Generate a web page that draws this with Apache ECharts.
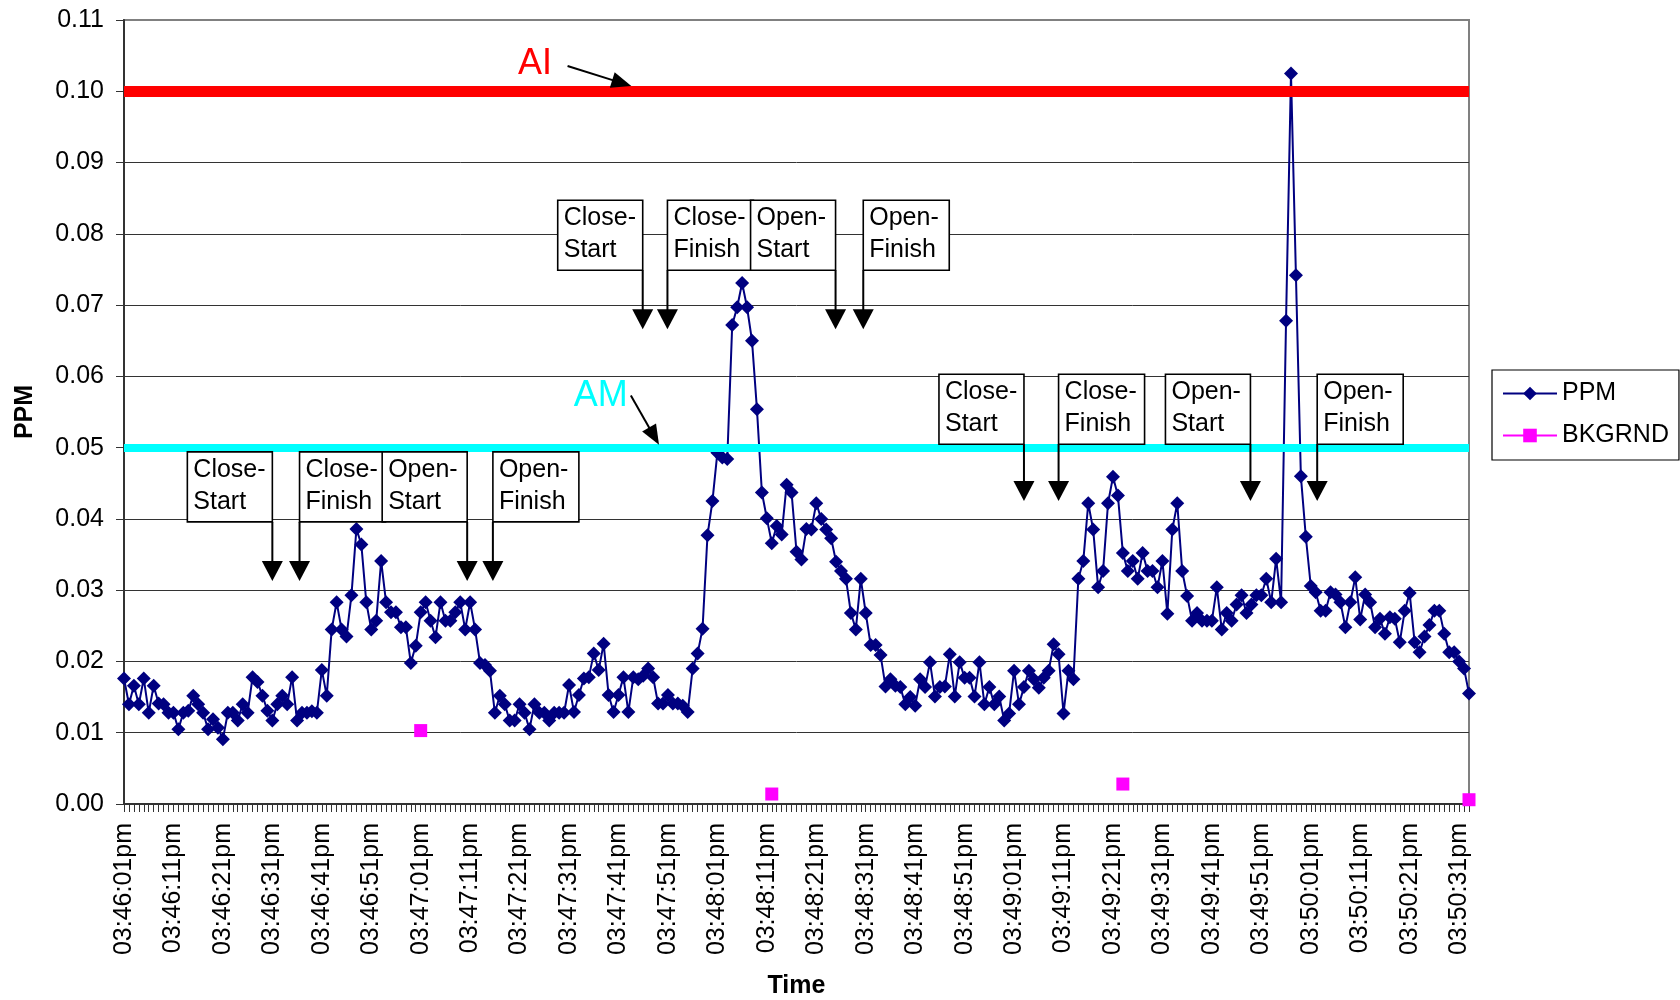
<!DOCTYPE html>
<html>
<head>
<meta charset="utf-8">
<script src="https://cdn.jsdelivr.net/npm/echarts@6/dist/echarts.min.js"></script>
<style>
html,body{margin:0;padding:0;background:#fff;}
#chart{width:1680px;height:1000px;}
</style>
</head>
<body>
<div id="chart"></div>
<script>
// ---------- DATA ----------
const START_HOUR = 15, START_MIN = 46, START_SEC = 1;   // 03:46:01pm
const N_POINTS = 273;                                   // one reading per second
const LABEL_EVERY = 10;

const PPM = [
  0.0176,0.0140,0.0166,0.0140,0.0176,0.0128,0.0166,0.0141,0.0140,0.0128,
  0.0128,0.0105,0.0128,0.0131,0.0152,0.0140,0.0128,0.0105,0.0119,0.0107,
  0.0091,0.0128,0.0128,0.0117,0.0140,0.0128,0.0178,0.0171,0.0152,0.0131,
  0.0117,0.0140,0.0152,0.0140,0.0178,0.0117,0.0128,0.0128,0.0130,0.0128,
  0.0188,0.0152,0.0245,0.0283,0.0245,0.0235,0.0293,0.0386,0.0364,0.0283,
  0.0245,0.0257,0.0341,0.0283,0.0269,0.0269,0.0248,0.0248,0.0198,0.0222,
  0.0269,0.0283,0.0257,0.0234,0.0283,0.0257,0.0257,0.0269,0.0283,0.0245,
  0.0283,0.0245,0.0198,0.0195,0.0187,0.0128,0.0152,0.0140,0.0117,0.0117,
  0.0140,0.0128,0.0105,0.0140,0.0128,0.0128,0.0117,0.0128,0.0128,0.0128,
  0.0167,0.0129,0.0153,0.0176,0.0178,0.0211,0.0188,0.0225,0.0153,0.0129,
  0.0153,0.0178,0.0129,0.0178,0.0175,0.0180,0.0190,0.0178,0.0141,0.0141,
  0.0153,0.0141,0.0141,0.0138,0.0129,0.0190,0.0211,0.0246,0.0377,0.0425,
  0.0493,0.0486,0.0484,0.0672,0.0697,0.0731,0.0697,0.0650,0.0554,0.0437,
  0.0401,0.0366,0.0390,0.0378,0.0448,0.0437,0.0354,0.0343,0.0386,0.0385,
  0.0422,0.0400,0.0385,0.0373,0.0340,0.0327,0.0316,0.0268,0.0245,0.0316,
  0.0268,0.0223,0.0223,0.0209,0.0165,0.0175,0.0166,0.0164,0.0140,0.0150,
  0.0138,0.0175,0.0164,0.0199,0.0151,0.0164,0.0165,0.0210,0.0151,0.0199,
  0.0177,0.0177,0.0151,0.0199,0.0140,0.0164,0.0140,0.0151,0.0117,0.0127,
  0.0187,0.0140,0.0164,0.0187,0.0175,0.0163,0.0177,0.0187,0.0224,0.0210,
  0.0127,0.0187,0.0175,0.0316,0.0341,0.0422,0.0385,0.0304,0.0327,0.0422,
  0.0459,0.0433,0.0352,0.0327,0.0341,0.0316,0.0352,0.0327,0.0327,0.0304,
  0.0341,0.0267,0.0385,0.0422,0.0327,0.0292,0.0257,0.0268,0.0257,0.0257,
  0.0257,0.0304,0.0245,0.0268,0.0257,0.0280,0.0293,0.0268,0.0280,0.0293,
  0.0293,0.0316,0.0283,0.0344,0.0283,0.0678,0.1025,0.0742,0.0460,0.0375,
  0.0306,0.0297,0.0271,0.0271,0.0297,0.0294,0.0283,0.0248,0.0283,0.0318,
  0.0259,0.0294,0.0283,0.0248,0.0260,0.0239,0.0262,0.0260,0.0227,0.0271,
  0.0296,0.0227,0.0213,0.0235,0.0251,0.0271,0.0271,0.0239,0.0213,0.0213,
  0.0200,0.0190,0.0155
];

const BKGRND_INDEX = [60, 131, 202, 272];
const BKGRND_VALUE = [0.0103, 0.0014, 0.0028, 0.0006];

const AI_LEVEL = 0.10;
const AM_LEVEL = 0.05;

const Y_MIN = 0, Y_MAX = 0.11, Y_STEP = 0.01;

// annotation events (category index of the event, box top value, arrow tip value)
const EVENT_LABELS = ['Close-\nStart','Close-\nFinish','Open-\nStart','Open-\nFinish',
                      'Close-\nStart','Close-\nFinish','Open-\nStart','Open-\nFinish',
                      'Close-\nStart','Close-\nFinish','Open-\nStart','Open-\nFinish'];
const EVENT_INDEX  = [30.0, 35.5, 69.4, 74.6, 104.9, 109.9, 143.9, 149.5, 182.0, 189.0, 227.8, 241.3];
const EVENT_BOXTOP = [0.0494,0.0494,0.0494,0.0494, 0.0847,0.0847,0.0847,0.0847, 0.0603,0.0603,0.0603,0.0603];
const EVENT_TIP    = [0.0313,0.0313,0.0313,0.0313, 0.0666,0.0666,0.0666,0.0666, 0.0425,0.0425,0.0425,0.0425];

// ---------- derived ----------
function fmtTime(sec) {
  const h = Math.floor(sec / 3600), m = Math.floor(sec / 60) % 60, s = sec % 60;
  const h12 = h > 12 ? h - 12 : h;
  const pad = n => (n < 10 ? '0' : '') + n;
  return pad(h12) + ':' + pad(m) + ':' + pad(s) + (h >= 12 ? 'pm' : 'am');
}
const startSec = START_HOUR * 3600 + START_MIN * 60 + START_SEC;
const CATEGORIES = [];
for (let i = 0; i < N_POINTS; i++) CATEGORIES.push(fmtTime(startSec + i));

const bkgrndData = new Array(N_POINTS).fill(null);
BKGRND_INDEX.forEach((idx, k) => { bkgrndData[idx] = BKGRND_VALUE[k]; });

const FONT = '"Liberation Sans", Arial, sans-serif';

const chart = echarts.init(document.getElementById('chart'), null, {renderer: 'canvas'});

chart.setOption({
  animation: false,
  backgroundColor: '#ffffff',
  textStyle: {fontFamily: FONT, color: '#000'},
  grid: {
    left: 124, right: 211, top: 20, bottom: 196,
    show: true, borderColor: '#808080', borderWidth: 2, backgroundColor: 'transparent',
    containLabel: false, outerBoundsMode: 'none'
  },
  legend: {
    data: ['PPM', 'BKGRND'],
    orient: 'vertical',
    left: 1492, top: 370,
    padding: [11, 10, 12, 10],
    itemGap: 17,
    itemWidth: 54, itemHeight: 17,
    borderColor: '#000', borderWidth: 1.2,
    backgroundColor: '#fff',
    textStyle: {fontFamily: FONT, fontSize: 25, color: '#000'}
  },
  xAxis: {
    type: 'category',
    data: CATEGORIES,
    boundaryGap: false,
    name: 'Time',
    nameLocation: 'middle',
    nameGap: 170,
    nameTextStyle: {fontFamily: FONT, fontSize: 25, fontWeight: 'bold', color: '#000'},
    axisLine: {show: true, onZero: false, lineStyle: {color: '#333', width: 2}},
    axisTick: {show: true, interval: 0, length: 8, inside: false, lineStyle: {color: '#333', width: 1}},
    axisLabel: {
      interval: LABEL_EVERY - 1, rotate: 90, margin: 19,
      fontFamily: FONT, fontSize: 25, color: '#000'
    },
    splitLine: {show: false}
  },
  yAxis: {
    type: 'value',
    min: Y_MIN, max: Y_MAX, interval: Y_STEP,
    name: 'PPM',
    nameLocation: 'middle',
    nameRotate: 90,
    nameGap: 86,
    nameTextStyle: {fontFamily: FONT, fontSize: 25, fontWeight: 'bold', color: '#000'},
    axisLine: {show: true, lineStyle: {color: '#333', width: 2}},
    axisTick: {show: true, length: 8, inside: false, lineStyle: {color: '#333', width: 1}},
    axisLabel: {
      margin: 20, fontFamily: FONT, fontSize: 25, color: '#000',
      formatter: v => v.toFixed(2)
    },
    splitLine: {show: true, showMinLine: false, showMaxLine: false, lineStyle: {color: '#333', width: 1}}
  },
  series: [
    {
      name: 'AI', type: 'line', data: [], z: 1, silent: true,
      markLine: {
        silent: true, symbol: ['none', 'none'], label: {show: false},
        lineStyle: {color: '#FF0000', width: 11, type: 'solid'},
        emphasis: {disabled: true},
        data: [{yAxis: AI_LEVEL}]
      }
    },
    {
      name: 'AM', type: 'line', data: [], z: 1, silent: true,
      markLine: {
        silent: true, symbol: ['none', 'none'], label: {show: false},
        lineStyle: {color: '#00FFFF', width: 8, type: 'solid'},
        emphasis: {disabled: true},
        data: [{yAxis: AM_LEVEL}]
      }
    },
    {
      name: 'PPM', type: 'line', data: PPM, z: 4,
      symbol: 'diamond', symbolSize: 14, showSymbol: true, showAllSymbol: true,
      itemStyle: {color: '#000080'},
      lineStyle: {color: '#000080', width: 2},
      emphasis: {disabled: true}
    },
    {
      name: 'BKGRND', type: 'line', data: bkgrndData, z: 5, connectNulls: false,
      symbol: 'rect', symbolSize: 13, showSymbol: true, showAllSymbol: true,
      itemStyle: {color: '#FF00FF'},
      lineStyle: {color: '#FF00FF', width: 2},
      emphasis: {disabled: true}
    }
  ]
});

// ---------- annotations placed via the chart's own scales ----------
const pA = chart.convertToPixel({gridIndex: 0}, [0, Y_MIN]);
const pB = chart.convertToPixel({gridIndex: 0}, [N_POINTS - 1, Y_MAX]);
const xPx = i => pA[0] + (pB[0] - pA[0]) * i / (N_POINTS - 1);
const yPx = v => pA[1] + (pB[1] - pA[1]) * (v - Y_MIN) / (Y_MAX - Y_MIN);

function arrowHead(tx, ty, fx, fy, len, half) {
  const dx = tx - fx, dy = ty - fy, d = Math.sqrt(dx * dx + dy * dy);
  const ux = dx / d, uy = dy / d;
  const bx = tx - ux * len, by = ty - uy * len;
  return {
    type: 'polygon', z: 100,
    shape: {points: [[tx, ty], [bx - uy * half, by + ux * half], [bx + uy * half, by - ux * half]]},
    style: {fill: '#000'}
  };
}
function arrow(fx, fy, tx, ty, len, half) {
  const dx = tx - fx, dy = ty - fy, d = Math.sqrt(dx * dx + dy * dy);
  const ex = tx - dx / d * (len - 2), ey = ty - dy / d * (len - 2);
  return [
    {type: 'line', z: 100, shape: {x1: fx, y1: fy, x2: ex, y2: ey}, style: {stroke: '#000', lineWidth: 2}},
    arrowHead(tx, ty, fx, fy, len, half)
  ];
}

const BOX_H = 70;
const graphics = [];
EVENT_LABELS.forEach((lab, k) => {
  const ax = xPx(EVENT_INDEX[k]);
  const top = yPx(EVENT_BOXTOP[k]);
  const tip = yPx(EVENT_TIP[k]);
  const isStart = lab.indexOf('Start') >= 0;
  const w = lab.indexOf('Finish') >= 0 ? 86 : 85;
  const left = isStart ? ax - w : ax;
  graphics.push({
    type: 'rect', z: 100,
    shape: {x: left, y: top, width: w, height: BOX_H},
    style: {fill: '#fff', stroke: '#000', lineWidth: 1.6}
  });
  graphics.push({
    type: 'text', z: 101,
    style: {
      text: lab, x: left + 6, y: top + 2,
      fontFamily: FONT, fontSize: 25, lineHeight: 32,
      fill: '#000', align: 'left', verticalAlign: 'top'
    }
  });
  arrow(ax, top + BOX_H, ax, tip, 20, 10.5).forEach(g => graphics.push(g));
});

// AI / AM labels with pointer arrows
const AI_TEXT_POS = [83.1, 0.1038], AI_ARROW = [[89.7, 0.10355], [102.6, 0.10074]];
const AM_TEXT_POS = [96.4, 0.0573], AM_ARROW = [[102.5, 0.0573], [108.2, 0.0504]];
graphics.push({
  type: 'text', z: 101,
  style: {text: 'AI', x: xPx(AI_TEXT_POS[0]), y: yPx(AI_TEXT_POS[1]), fontFamily: FONT, fontSize: 36,
          fill: '#FF0000', align: 'center', verticalAlign: 'middle'}
});
graphics.push({
  type: 'text', z: 101,
  style: {text: 'AM', x: xPx(AM_TEXT_POS[0]), y: yPx(AM_TEXT_POS[1]), fontFamily: FONT, fontSize: 36,
          fill: '#00FFFF', align: 'center', verticalAlign: 'middle'}
});
arrow(xPx(AI_ARROW[0][0]), yPx(AI_ARROW[0][1]), xPx(AI_ARROW[1][0]), yPx(AI_ARROW[1][1]), 20, 8)
  .forEach(g => graphics.push(g));
arrow(xPx(AM_ARROW[0][0]), yPx(AM_ARROW[0][1]), xPx(AM_ARROW[1][0]), yPx(AM_ARROW[1][1]), 20, 8)
  .forEach(g => graphics.push(g));

chart.setOption({graphic: graphics});
</script>
</body>
</html>
